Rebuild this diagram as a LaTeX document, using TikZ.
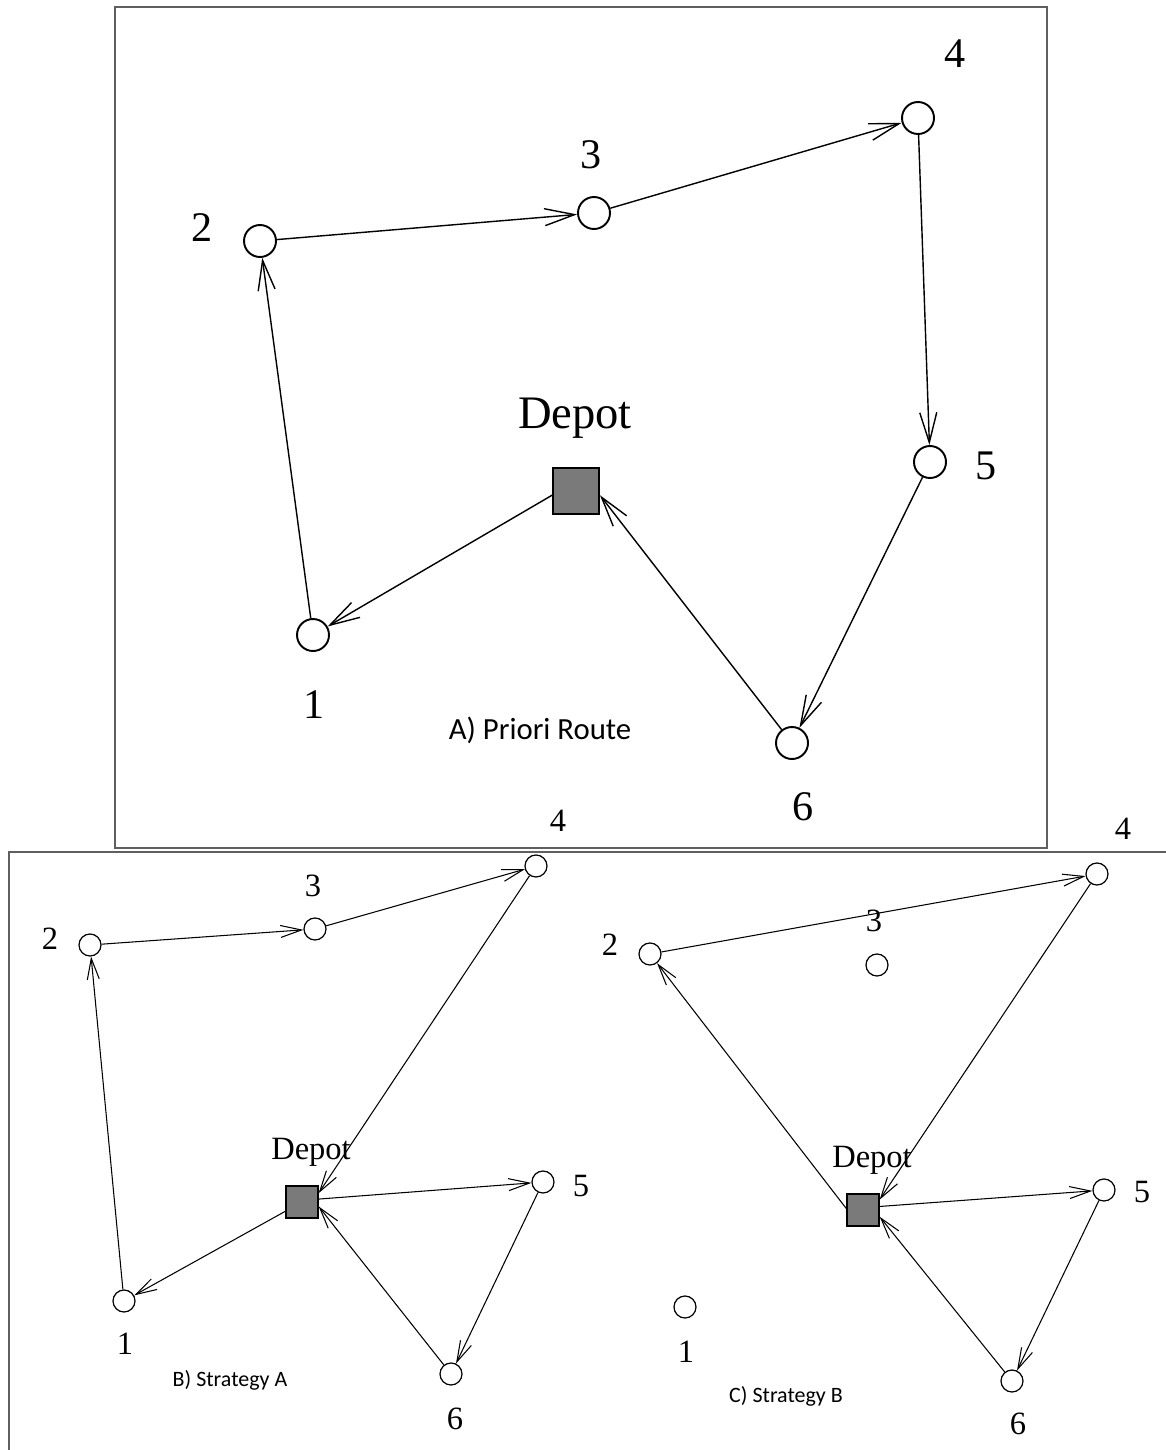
\documentclass[tikz,border=0pt]{standalone}
\usepackage{fontspec}
\setmainfont{Liberation Serif}
\newfontfamily\labelfont{Carlito}
\usetikzlibrary{arrows.meta}
\usetikzlibrary{positioning}

\definecolor{depotgray}{RGB}{122,122,122}
\definecolor{framegray}{RGB}{95,95,95}

\tikzset{
	stop/.style = {circle, draw = black, line width = 1.1pt, minimum size = 0.64cm, inner sep = 0pt},
	small stop/.style = {circle, draw = black, line width = 0.7pt, minimum size = 0.44cm, inner sep = 0pt},
	depot/.style = {rectangle, draw = black, fill = depotgray, line width = 1.1pt, minimum size = 0.92cm, inner sep = 0pt},
	small depot/.style = {rectangle, draw = black, fill = depotgray, line width = 0.8pt, minimum size = 0.64cm, inner sep = 0pt},
	route/.style = {-{Straight Barb[length = 0.6cm, width = 0.34cm]}, line width = 0.8pt},
	small route/.style = {-{Straight Barb[length = 0.42cm, width = 0.24cm]}, line width = 0.6pt},
	num/.style = {font = \fontsize{24}{24}\selectfont},
	small num/.style = {font = \fontsize{18.5}{19}\selectfont},
	big title/.style = {font = \fontsize{26.5}{27}\selectfont},
	small title/.style = {font = \fontsize{18.5}{19}\selectfont},
	caption/.style = {font = \labelfont\fontsize{17.5}{18}\selectfont},
	small caption/.style = {font = \labelfont\fontsize{12.5}{13}\selectfont}
}

\begin{document}
\begin{tikzpicture}[x = 0.02cm, y = -0.02cm]
	\useasboundingbox (0, 0) rectangle (1166, 1450);
	\fill [white] (0, 0) rectangle (1166, 1450);

	% frames
	\draw [framegray, line width = 1.1pt] (115, 7) rectangle (1047, 848);
	\draw [framegray, line width = 1.1pt] (1166, 852) -- (9, 852) -- (9, 1450);

	% A) priori route
	\node [stop] (a1) at (313, 635) {};
	\node [stop] (a2) at (260, 241) {};
	\node [stop] (a3) at (594, 213) {};
	\node [stop] (a4) at (918, 118) {};
	\node [stop] (a5) at (930, 462) {};
	\node [stop] (a6) at (792, 743) {};
	\node [depot] (ad) at (576, 491) {};
	\node [num] (la1) at (314, 705) {1};
	\node [num] (la2) at (202, 228) {2};
	\node [num] (la3) at (591, 155) {3};
	\node [num] (la4) at (955, 54) {4};
	\node [num] (la5) at (986, 466) {5};
	\node [num] (la6) at (803, 807) {6};
	\node [big title] (lad) at (575, 418) {Depot};
	\node [caption] (capa) at (540, 730) {A) Priori Route};

	\draw [route] (ad.-170) -- (a1);
	\draw [route] (a1) -- (a2);
	\draw [route] (a2) -- (a3);
	\draw [route] (a3) -- (a4);
	\draw [route] (a4) -- (a5);
	\draw [route] (a5) -- (a6);
	\draw [route] (a6) -- (ad.-10);

	% B) strategy A
	\node [small stop] (b1) at (124, 1301) {};
	\node [small stop] (b2) at (90, 945) {};
	\node [small stop] (b3) at (315, 929) {};
	\node [small stop] (b4) at (536, 866) {};
	\node [small stop] (b5) at (543, 1182) {};
	\node [small stop] (b6) at (451, 1374) {};
	\node [small depot] (bd) at (302, 1202) {};
	\node [small num] (lb1) at (125, 1344) {1};
	\node [small num] (lb2) at (50, 939) {2};
	\node [small num] (lb3) at (313, 886) {3};
	\node [small num] (lb4) at (558, 821) {4};
	\node [small num] (lb5) at (581, 1186) {5};
	\node [small num] (lb6) at (455, 1419) {6};
	\node [small title] (lbd) at (311, 1152) {Depot};
	\node [small caption] (capb) at (230, 1380) {B) Strategy A};

	\draw [small route] (bd) -- (b1);
	\draw [small route] (b1) -- (b2);
	\draw [small route] (b2) -- (b3);
	\draw [small route] (b3) -- (b4);
	\draw [small route] (b4) -- (bd.28);
	\draw [small route] (bd.10) -- (b5);
	\draw [small route] (b5) -- (b6);
	\draw [small route] (b6) -- (bd.-15);

	% C) strategy B
	\node [small stop] (c1) at (685, 1307) {};
	\node [small stop] (c2) at (650, 954) {};
	\node [small stop] (c3) at (877, 965) {};
	\node [small stop] (c4) at (1097, 874) {};
	\node [small stop] (c5) at (1104, 1190) {};
	\node [small stop] (c6) at (1012, 1381) {};
	\node [small depot] (cd) at (863, 1210) {};
	\node [small num] (lc1) at (686, 1352) {1};
	\node [small num] (lc2) at (610, 945) {2};
	\node [small num] (lc3) at (874, 921) {3};
	\node [small num] (lc4) at (1123, 829) {4};
	\node [small num] (lc5) at (1142, 1192) {5};
	\node [small num] (lc6) at (1018, 1424) {6};
	\node [small title] (lcd) at (872, 1160) {Depot};
	\node [small caption] (capc) at (786, 1396) {C) Strategy B};

	\draw [small route] (cd.175) -- (c2);
	\draw [small route] (c2) -- (c4);
	\draw [small route] (c4) -- (cd.32);
	\draw [small route] (cd.12) -- (c5);
	\draw [small route] (c5) -- (c6);
	\draw [small route] (c6) -- (cd.-22);
\end{tikzpicture}
\end{document}
